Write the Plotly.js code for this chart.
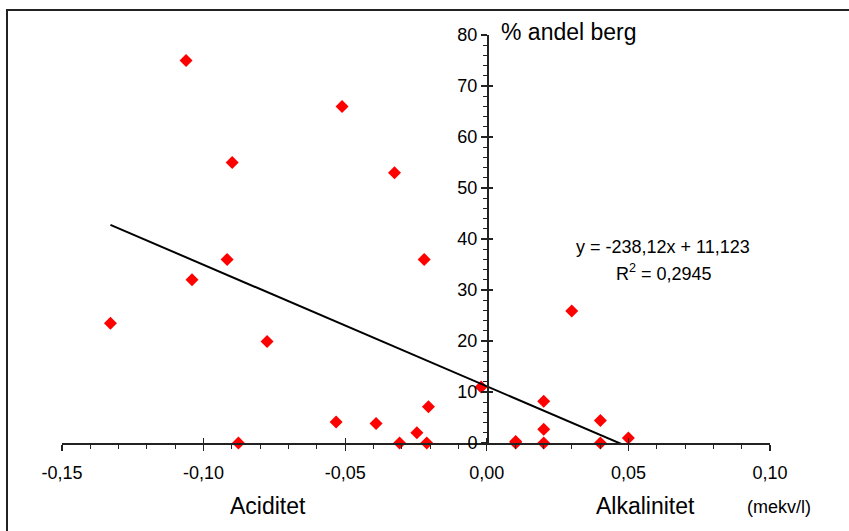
<!DOCTYPE html>
<html>
<head>
<meta charset="utf-8">
<script src="https://cdn.plot.ly/plotly-3.0.1.min.js"></script>
<style>
html,body{margin:0;padding:0;background:#fff;}
#chart{width:849px;height:531px;}
</style>
</head>
<body>
<div id="chart"></div>
<script>
// Data
const xVals = [-0.1062, -0.0511, -0.0899, -0.0326, -0.0917, -0.0221, -0.1041, -0.1329, -0.0776,
               0.0300, -0.0020, 0.0201, -0.0206, -0.0532, -0.0391, -0.0247, 0.0201, 0.0401, 0.0500,
               -0.0877, -0.0308, -0.0212, 0.0102, 0.0102, 0.0201, 0.0401];
const yVals = [75.0, 66.0, 55.0, 53.0, 36.0, 36.0, 32.0, 23.5, 19.9,
               25.9, 11.0, 8.2, 7.1, 4.1, 3.8, 2.0, 2.7, 4.4, 1.0,
               0, 0, 0, 0, 0.3, 0, 0];
const slope = -238.12;
const intercept = 11.123;
const rSquared = "0,2945";
const xTickVals = [-0.15, -0.10, -0.05, 0.00, 0.05, 0.10];
const xTickText = ["-0,15", "-0,10", "-0,05", "0,00", "0,05", "0,10"];
const yTickVals = [0, 10, 20, 30, 40, 50, 60, 70, 80];

const xMin = Math.min(...xVals), xMax = Math.max(...xVals);
const lineX = [xMin, xMax];
const lineY = lineX.map(v => slope * v + intercept);

const FONT = "Arial, 'Liberation Sans', sans-serif";
const L = 62, R = 79, T = 35, B = 88, W = 849, H = 531;
const pw = W - L - R, ph = H - T - B;
const px = p => (p - L) / pw;
const py = p => (H - B - p) / ph;

const traces = [
  {x: xVals, y: yVals, type: 'scatter', mode: 'markers', cliponaxis: false,
   marker: {symbol: 'diamond', size: 10, color: '#ff0000'}, xaxis: 'x', yaxis: 'y'},
  {x: lineX, y: lineY, type: 'scatter', mode: 'lines', cliponaxis: true,
   line: {color: '#000', width: 2}, xaxis: 'x', yaxis: 'y'},
  {x: [], y: [], type: 'scatter', xaxis: 'x2', yaxis: 'y2'}
];

const layout = {
  width: W, height: H,
  margin: {l: L, r: R, t: T, b: B, pad: 0},
  paper_bgcolor: '#fff', plot_bgcolor: 'rgba(0,0,0,0)',
  showlegend: false,
  font: {family: FONT, color: '#000'},
  xaxis: {
    range: [-0.15, 0.10], showgrid: false, zeroline: false,
    showline: true, linecolor: '#222', linewidth: 1.5,
    anchor: 'y', tickmode: 'array', tickvals: xTickVals, ticktext: xTickText,
    ticks: 'outside', ticklen: 6, tickcolor: '#222', tickwidth: 1.2,
    ticklabelstandoff: 7,
    tickfont: {family: FONT, size: 18, color: '#000'},
    minor: {tickmode: 'linear', tick0: -0.15, dtick: 0.01, ticks: 'outside', ticklen: 4, tickcolor: '#222', tickwidth: 1}
  },
  xaxis2: {
    range: [-0.15, 0.10], overlaying: 'x', anchor: 'y', showgrid: false, zeroline: false,
    showline: false, tickmode: 'array', tickvals: xTickVals, showticklabels: false,
    ticks: 'inside', ticklen: 5, tickcolor: '#222', tickwidth: 1.2
  },
  yaxis: {
    range: [0, 80], showgrid: false, zeroline: false,
    showline: true, linecolor: '#222', linewidth: 1.5,
    anchor: 'free', position: px(487),
    tickmode: 'array', tickvals: yTickVals,
    ticks: 'outside', ticklen: 6, tickcolor: '#222', tickwidth: 1.2,
    tickfont: {family: FONT, size: 18, color: '#000'},
    minor: {tickmode: 'linear', tick0: 0, dtick: 2, ticks: 'outside', ticklen: 4, tickcolor: '#222', tickwidth: 1}
  },
  yaxis2: {
    range: [0, 80], overlaying: 'y', anchor: 'free', position: px(487),
    showgrid: false, zeroline: false, showline: false,
    tickmode: 'array', tickvals: yTickVals, showticklabels: false,
    ticks: 'inside', ticklen: 5, tickcolor: '#222', tickwidth: 1.2
  },
  shapes: [
    {type: 'rect', xref: 'paper', yref: 'paper',
     x0: px(7), x1: px(860), y0: py(545), y1: py(10),
     line: {color: '#222', width: 2}, fillcolor: 'rgba(0,0,0,0)', layer: 'above'}
  ],
  annotations: [
    {text: '% andel berg', xref: 'paper', yref: 'paper', x: px(499), y: py(32),
     xanchor: 'left', yanchor: 'middle', showarrow: false, font: {family: FONT, size: 23, color: '#000'}},
    {text: 'y = -238,12x + 11,123', xref: 'paper', yref: 'paper', x: px(663), y: py(247),
     xanchor: 'center', yanchor: 'middle', showarrow: false, font: {family: FONT, size: 18, color: '#000'}},
    {text: 'R<sup>2</sup> = ' + rSquared, xref: 'paper', yref: 'paper', x: px(664), y: py(272),
     xanchor: 'center', yanchor: 'middle', showarrow: false, font: {family: FONT, size: 18, color: '#000'}},
    {text: 'Aciditet', xref: 'paper', yref: 'paper', x: px(268), y: py(506),
     xanchor: 'center', yanchor: 'middle', showarrow: false, font: {family: FONT, size: 23, color: '#000'}},
    {text: 'Alkalinitet', xref: 'paper', yref: 'paper', x: px(645), y: py(506),
     xanchor: 'center', yanchor: 'middle', showarrow: false, font: {family: FONT, size: 23, color: '#000'}},
    {text: '(mekv/l)', xref: 'paper', yref: 'paper', x: px(779), y: py(507),
     xanchor: 'center', yanchor: 'middle', showarrow: false, font: {family: FONT, size: 18, color: '#000'}}
  ]
};

Plotly.newPlot('chart', traces, layout, {displayModeBar: false, staticPlot: true});
</script>
</body>
</html>
